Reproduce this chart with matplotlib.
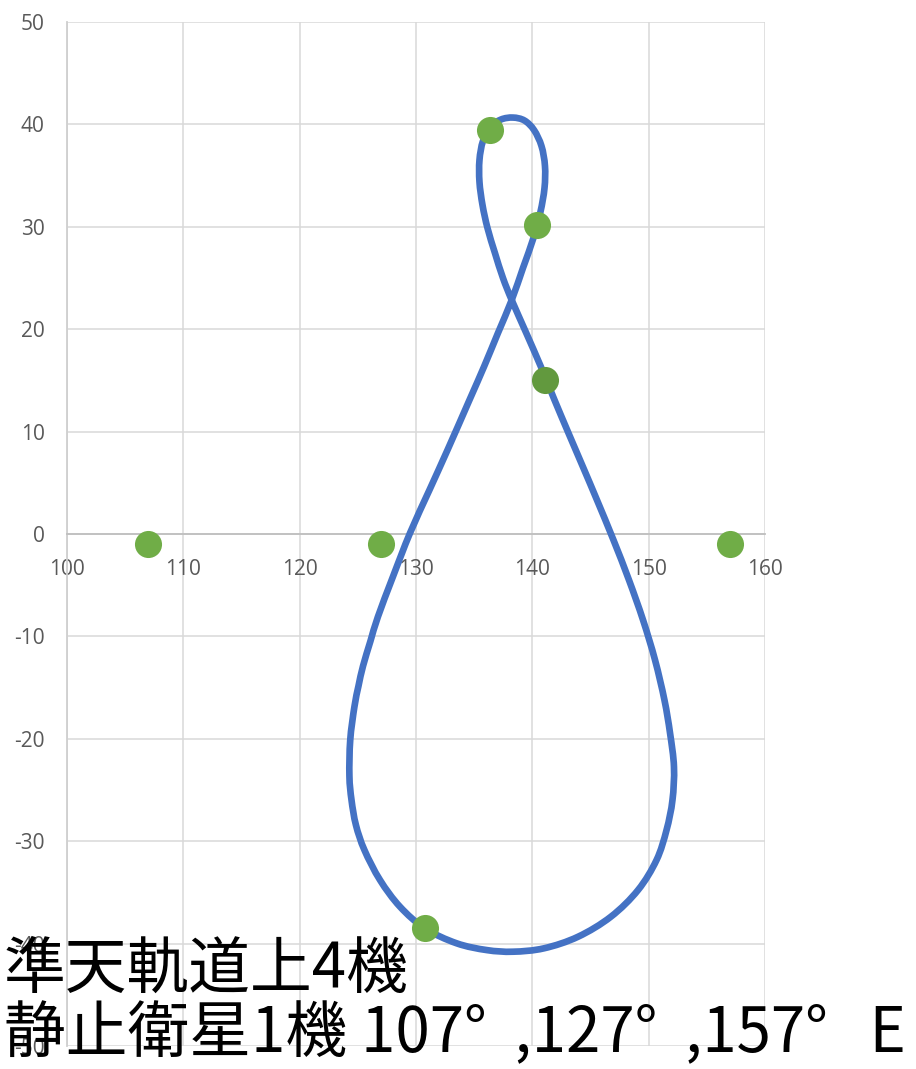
import matplotlib
matplotlib.use("Agg")
import matplotlib.pyplot as plt
from matplotlib.path import Path
from matplotlib.patches import PathPatch

plt.rcParams["axes.unicode_minus"] = False

# Ground track of the quasi-zenith orbit (longitude °E, latitude °)
track_lon = [138.23, 139.20, 140.10, 140.70, 141.05, 141.09, 140.79, 140.15, 139.33,
             138.34, 137.31, 136.41, 135.76, 135.46, 135.46, 135.72, 136.15, 136.79,
             137.48, 138.23, 139.48, 140.75, 141.91, 143.11, 144.36, 145.56, 146.98,
             148.31, 149.52, 150.55, 151.36, 151.84, 152.18, 152.05, 151.54, 150.68,
             149.09, 146.76, 143.93, 141.00, 138.34, 136.08, 133.50, 130.77, 128.63,
             126.91, 125.57, 124.84, 124.46, 124.28, 124.35, 124.71, 125.06, 125.45,
             126.09, 126.73, 128.02, 129.49, 131.16, 132.71, 134.60, 135.85, 137.05,
             138.23]
track_lat = [22.85, 25.98, 28.91, 31.45, 33.79, 35.94, 37.89, 39.45, 40.38,
             40.67, 40.48, 39.75, 38.38, 36.52, 34.38, 32.13, 29.88, 27.44,
             25.00, 22.85, 19.63, 16.31, 13.09, 9.86, 6.54, 3.32, -0.59,
             -4.49, -8.40, -12.30, -16.21, -19.43, -22.75, -25.98, -28.91, -31.84,
             -34.77, -37.37, -39.33, -40.46, -40.79, -40.63, -39.97, -38.51, -36.40,
             -33.79, -30.86, -28.42, -25.98, -23.63, -20.12, -16.87, -14.84, -12.89,
             -10.45, -8.08, -4.17, 0.10, 4.30, 8.20, 13.09, 16.34, 19.63,
             22.85]

# Satellite positions
qzs_lon = [136.4, 140.4, 130.8]
qzs_lat = [39.5, 30.2, -38.5]
geo_lon = [107, 127, 157]
geo_lat = [-1, -1, -1]
hl_lon = [141.1]
hl_lat = [15.0]

x_ticks = [100, 110, 120, 130, 140, 150, 160]
y_ticks = [-50, -40, -30, -20, -10, 0, 10, 20, 30, 40, 50]

caption = "準天軌道上4機\n静止衛星1機 107°  ,127°  ,157°   E"


def smooth_closed_path(xs, ys):
    """Closed cubic Bezier path through the points (smoothed scatter line)."""
    pts = list(zip(xs, ys))
    if pts[0] == pts[-1]:
        pts = pts[:-1]
    n = len(pts)
    verts = [pts[0]]
    codes = [Path.MOVETO]
    for i in range(n):
        p0 = pts[i - 1]
        p1 = pts[i]
        p2 = pts[(i + 1) % n]
        p3 = pts[(i + 2) % n]
        c1 = (p1[0] + (p2[0] - p0[0]) / 6.0, p1[1] + (p2[1] - p0[1]) / 6.0)
        c2 = (p2[0] - (p3[0] - p1[0]) / 6.0, p2[1] - (p3[1] - p1[1]) / 6.0)
        verts += [c1, c2, p2]
        codes += [Path.CURVE4] * 3
    return Path(verts, codes)


fig = plt.figure(figsize=(9.16, 10.69), dpi=100)
ax = fig.add_axes([0.0731, 0.0215, 0.7620, 0.9579])

ax.set_xlim(100, 160)
ax.set_ylim(-50, 50)
ax.set_xticks(x_ticks)
ax.set_yticks(y_ticks)

ax.grid(True, color="#D9D9D9", linewidth=1.1, zorder=0)
ax.set_axisbelow(True)
for s in ["top", "right"]:
    ax.spines[s].set_visible(False)
ax.spines["bottom"].set_position(("data", 0))
ax.spines["bottom"].set_color("#BFBFBF")
ax.spines["bottom"].set_linewidth(1.3)
ax.spines["left"].set_color("#CFCFCF")
ax.spines["left"].set_linewidth(1.3)

ax.tick_params(axis="both", length=0, labelsize=15, labelcolor="#595959")
ax.tick_params(axis="x", pad=18)
ax.tick_params(axis="y", pad=16)
for lbl in ax.get_xticklabels() + ax.get_yticklabels():
    lbl.set_family("Open Sans")

track = PathPatch(smooth_closed_path(track_lon, track_lat), fill=False,
                  edgecolor="#4472C4", linewidth=4.8, capstyle="round",
                  joinstyle="round", zorder=3)
ax.add_patch(track)

ax.plot(geo_lon, geo_lat, "o", color="#70AD47", markersize=19.5,
        markeredgewidth=0, zorder=4)
ax.plot(qzs_lon, qzs_lat, "o", color="#70AD47", markersize=19.5,
        markeredgewidth=0, zorder=4)
ax.plot(hl_lon, hl_lat, "o", color="#62993E", markersize=19.5,
        markeredgewidth=0, zorder=4)

fig.text(0.004, 0.003, caption, fontsize=44.5, color="black",
         family=["Noto Sans CJK JP", "DejaVu Sans"], ha="left", va="bottom",
         linespacing=1.0, zorder=10)

fig.savefig("out.png", dpi=100)
